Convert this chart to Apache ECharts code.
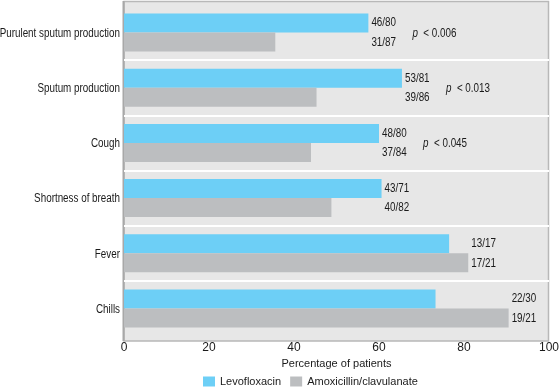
<!DOCTYPE html>
<html><head><meta charset="utf-8">
<script src="https://cdn.jsdelivr.net/npm/echarts@6/dist/echarts.min.js"></script>
<style>html,body{margin:0;padding:0;background:#fff}#c{width:560px;height:388px}</style>
</head><body><div id="c"></div>
<script>
const categories = ['Purulent sputum production','Sputum production','Cough','Shortness of breath','Fever','Chills'];
const levoLabels = ['46/80','53/81','48/80','43/71','13/17','22/30'];
const amoxLabels = ['31/87','39/86','37/84','40/82','17/21','19/21'];
const levoValues = [57.5, 65.4, 60.0, 60.6, 76.5, 73.3];
const amoxValues = [35.6, 45.3, 44.0, 48.8, 81.0, 90.5];
const pValues = ['0.006','0.013','0.045','','',''];
const xTicks = [0,20,40,60,80,100];

const FONT = '"Liberation Sans","Arial",sans-serif';
const SX = 0.82;
const chart = echarts.init(document.getElementById('c'));
const labelData = categories.map((c,i)=>[Math.max(levoValues[i],amoxValues[i]), i]);
const catData = categories.map((c,i)=>[0, i]);

function txt(text, x, y, align){
  return {type:'text',x:x,y:y,scaleX:SX,scaleY:1,
    style:{text:text,x:0,y:0,align:align,verticalAlign:'middle',fill:'#1a1a1a',font:'12px '+FONT}};
}

chart.setOption({
  animation:false,
  textStyle:{fontFamily:FONT},
  graphic:[
    {type:'rect',z:-10,shape:{x:124,y:1.5,width:424.5,height:339.5},style:{fill:'#e7e7e7',stroke:'#b8b8b8',lineWidth:1.5}},
    {type:'line',z:-9,shape:{x1:123.5,y1:1,x2:123.5,y2:341},style:{stroke:'#a8a8a8',lineWidth:2}}
  ],
  grid:{left:124,right:11,top:5,bottom:52,containLabel:false,outerBoundsMode:'none',show:false},
  legend:{bottom:-4,left:198,itemWidth:12,itemHeight:10,itemGap:9,icon:'rect',
    textStyle:{fontFamily:FONT,fontSize:11,color:'#1a1a1a'},
    data:['Levofloxacin','Amoxicillin/clavulanate']},
  xAxis:{type:'value',min:0,max:100,interval:20,offset:5,
    name:'Percentage of patients',nameLocation:'middle',nameGap:13,
    nameTextStyle:{fontFamily:FONT,fontSize:11,color:'#1a1a1a'},
    axisLine:{show:false},
    axisTick:{show:false},splitLine:{show:false},
    axisLabel:{fontFamily:FONT,fontSize:12,color:'#1a1a1a',margin:1}},
  yAxis:{type:'category',data:categories,inverse:true,
    axisLine:{show:false},
    axisTick:{show:false},
    splitLine:{show:true,showMinLine:false,showMaxLine:false,lineStyle:{color:'#ffffff',width:2}},
    axisLabel:{show:false}},
  series:[
    {name:'Levofloxacin',type:'bar',data:levoValues,barWidth:19,barGap:'0%',itemStyle:{color:'#6dcff6'}},
    {name:'Amoxicillin/clavulanate',type:'bar',data:amoxValues,barWidth:19,barGap:'0%',itemStyle:{color:'#bcbec0'}},
    {name:'catLabels',type:'custom',clip:false,data:catData,encode:{x:0,y:1},silent:true,
      renderItem:function(params,api){
        const pt = api.coord([api.value(0), api.value(1)]);
        return txt(categories[params.dataIndex], pt[0]-4, pt[1]+1, 'right');
      }},
    {name:'labels',type:'custom',clip:false,data:labelData,encode:{x:0,y:1},silent:true,
      renderItem:function(params,api){
        const pt = api.coord([api.value(0), api.value(1)]);
        const i = params.dataIndex;
        const x = pt[0]+3;
        const children = [
          txt(levoLabels[i], x, pt[1]-9.5, 'left'),
          txt(amoxLabels[i], x, pt[1]+10, 'left')
        ];
        if (pValues[i]) {
          children.push({type:'text',x:x+41,y:pt[1]+1,scaleX:SX,
            style:{text:'{i|p}  < '+pValues[i],x:0,y:0,verticalAlign:'middle',fill:'#1a1a1a',font:'12px '+FONT,
            rich:{i:{fontStyle:'italic',fontFamily:FONT,fontSize:12,fill:'#1a1a1a'}}}});
        }
        return {type:'group',children:children};
      }}
  ]
});
</script></body></html>
